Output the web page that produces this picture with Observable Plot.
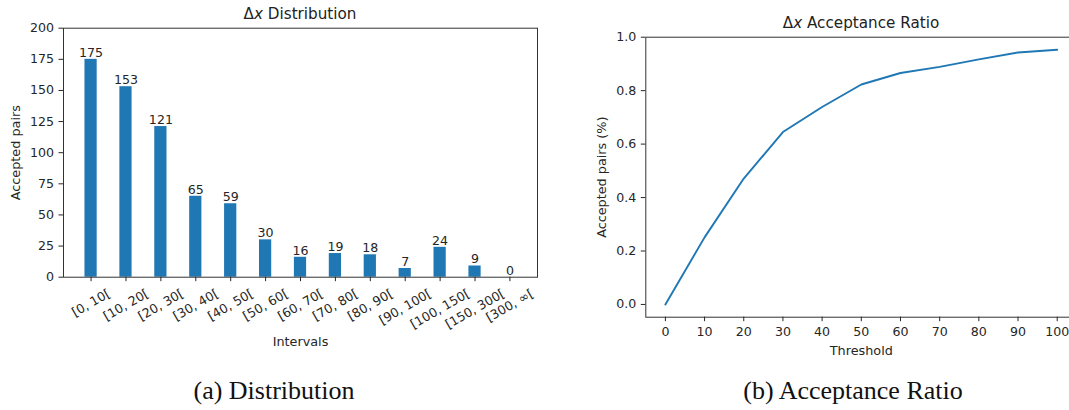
<!DOCTYPE html>
<html><head><meta charset="utf-8">
<script src="https://cdn.jsdelivr.net/npm/d3@7"></script>
<script src="https://cdn.jsdelivr.net/npm/@observablehq/plot@0.6"></script>
<style>
html,body{margin:0;padding:0;background:#fff;}
body{width:1069px;height:410px;overflow:hidden;position:relative;}
.abs{position:absolute;}
.title{font-family:"DejaVu Sans";font-size:15.2px;color:#222;white-space:nowrap;transform:translateX(-50%);line-height:1;}
.cap{font-family:"Liberation Serif";font-size:26px;color:#111;white-space:nowrap;transform:translateX(-50%);line-height:1;}
svg{max-width:none !important;}
</style></head><body>
<div id="left" class="abs" style="left:0;top:0;width:560px;height:360px"></div>
<div id="right" class="abs" style="left:570px;top:0;width:520px;height:360px"></div>
<div class="abs title" style="left:300px;top:6.5px">Δ<i>x</i> Distribution</div>
<div class="abs title" style="left:861px;top:15.5px">Δ<i>x</i> Acceptance Ratio</div>
<div class="abs cap" style="left:274px;top:378px">(a) Distribution</div>
<div class="abs cap" style="left:853px;top:378px">(b) Acceptance Ratio</div>
<script>
// ---- data ----
const intervals = ["[0, 10[", "[10, 20[", "[20, 30[", "[30, 40[", "[40, 50[", "[50, 60[", "[60, 70[", "[70, 80[", "[80, 90[", "[90, 100[", "[100, 150[", "[150, 300[", "[300, ∞["];
const counts = [175, 153, 121, 65, 59, 30, 16, 19, 18, 7, 24, 9, 0];
const countTicks = [0, 25, 50, 75, 100, 125, 150, 175, 200];

const thresholds = [0, 10, 20, 30, 40, 50, 60, 70, 80, 90, 100];
const ratios = [0, 0.251, 0.471, 0.645, 0.739, 0.823, 0.866, 0.889, 0.917, 0.943, 0.953];
const ratioTicks = [0, 0.2, 0.4, 0.6, 0.8, 1.0];

const blue = "#1f77b4";
const ink = "#262626";
const FS = 12.6;
const LFS = 12.8;
const font = "DejaVu Sans";

const bars = intervals.map((k, i) => ({interval: k, count: counts[i]}));
const line = thresholds.map((t, i) => ({t, r: ratios[i]}));

// measure rotated tick label boxes (matplotlib: rotation 30, centered bbox)
const ctx = document.createElement("canvas").getContext("2d");
ctx.font = `${FS}px "${font}"`;
const rad = Math.PI / 6;
const tickLabelMarks = intervals.map(lab => {
  const w = ctx.measureText(lab).width;
  const h = FS * 1.164;
  const bh = w * Math.sin(rad) + h * Math.cos(rad);
  return Plot.text([lab], {
    x: d => d, frameAnchor: "bottom", text: d => d,
    dy: 4.5 + 4.5 + bh / 2, rotate: -30, textAnchor: "middle", lineAnchor: "middle",
    fontSize: FS, fill: ink
  });
});

const baseStyle = {color: ink, fontFamily: font, fontSize: FS + "px", background: "transparent", overflow: "visible", maxWidth: "none"};

const left = Plot.plot({
  width: 560, height: 360,
  marginLeft: 63, marginRight: 23, marginTop: 27.7, marginBottom: 83.3,
  style: baseStyle,
  x: {type: "band", domain: intervals, paddingInner: 0.65, paddingOuter: 0.615, round: false},
  y: {domain: [0, 200]},
  marks: [
    Plot.barY(bars, {x: "interval", y: "count", fill: blue}),
    Plot.text(bars, {x: "interval", y: "count", text: d => String(d.count), dy: -2.5, lineAnchor: "bottom", fontSize: FS, fill: ink}),
    Plot.frame({stroke: "#333", strokeWidth: 1}),
    Plot.axisY({ticks: countTicks, tickSize: 4.5, tickPadding: 5, label: null, fontSize: FS}),
    Plot.axisX({tickSize: 4.5, tickFormat: () => "", label: null}),
    ...tickLabelMarks,
    Plot.text(["Intervals"], {frameAnchor: "bottom", text: d => d, dy: 68.3, lineAnchor: "bottom", fontSize: LFS, fill: ink}),
    Plot.text(["Accepted pairs"], {frameAnchor: "left", text: d => d, dx: -47.3, rotate: -90, lineAnchor: "middle", textAnchor: "middle", fontSize: LFS, fill: ink})
  ]
});
document.getElementById("left").appendChild(left);

const right = Plot.plot({
  width: 520, height: 360,
  marginLeft: 75.3, marginRight: 13.7, marginTop: 36.7, marginBottom: 43.3,
  style: baseStyle,
  x: {domain: [-5, 105]},
  y: {domain: [-0.0477, 1.0]},
  marks: [
    Plot.line(line, {x: "t", y: "r", stroke: blue, strokeWidth: 1.9}),
    Plot.frame({stroke: "#333", strokeWidth: 1}),
    Plot.axisY({ticks: ratioTicks, tickFormat: d3.format(".1f"), tickSize: 4.5, tickPadding: 5, label: null, fontSize: FS}),
    Plot.axisX({ticks: thresholds, tickFormat: d3.format("d"), tickSize: 4.5, tickPadding: 5, label: null, fontSize: FS}),
    Plot.text(["Threshold"], {frameAnchor: "bottom", text: d => d, dy: 37.3, lineAnchor: "bottom", fontSize: LFS, fill: ink}),
    Plot.text(["Accepted pairs (%)"], {frameAnchor: "left", text: d => d, dx: -43.6, rotate: -90, lineAnchor: "middle", textAnchor: "middle", fontSize: LFS, fill: ink})
  ]
});
document.getElementById("right").appendChild(right);
</script>
</body></html>
